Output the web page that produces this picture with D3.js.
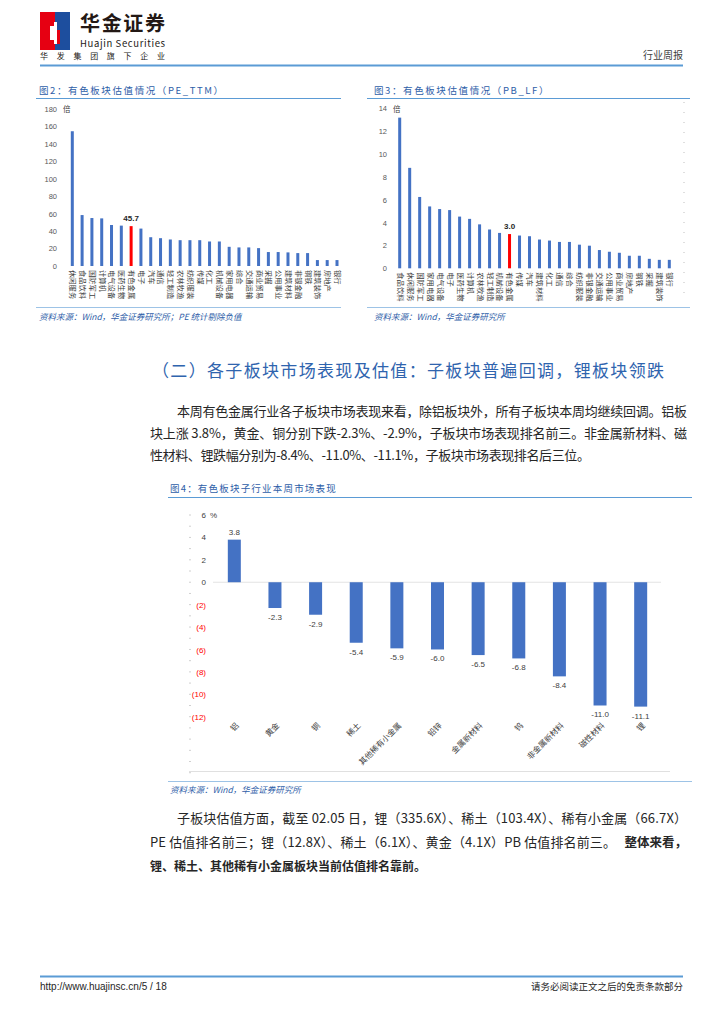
<!DOCTYPE html>
<html>
<head>
<meta charset="utf-8">
<script src="https://cdn.jsdelivr.net/npm/d3@7"></script>
<style>
body { margin: 0; background: #fff; }
svg { display: block; }
text { font-family: "Noto Sans CJK SC", "Liberation Sans", sans-serif; }
.num { font-family: "Liberation Sans", Arial, sans-serif; }
</style>
</head>
<body>
<svg id="page" width="724" height="1024"></svg>
<script>
// 图2 PE_TTM
var peCats = ["休闲服务", "食品饮料", "国防军工", "计算机", "电气设备", "医药生物", "有色金属",
    "电子", "汽车", "通信", "轻工制造", "农林牧渔", "纺织服装", "传媒", "化工", "机械设备",
    "家用电器", "综合", "交通运输", "商业贸易", "采掘", "公用事业", "建筑材料", "非银金融",
    "钢铁", "建筑装饰", "房地产", "银行"];
var peVals = [154.5, 58.4, 55.0, 54.6, 47.0, 46.3, 45.7, 42.9, 33.0, 31.9, 30.4, 29.6, 29.6, 29.6,
    28.1, 28.1, 22.0, 21.3, 21.3, 20.5, 16.0, 16.0, 15.6, 14.8, 14.8, 6.8, 6.8, 6.8];
var peTicks = [0, 20, 40, 60, 80, 100, 120, 140, 160, 180];

// 图3 PB_LF
var pbCats = ["食品饮料", "休闲服务", "国防军工", "家用电器", "电气设备", "电子", "医药生物",
    "计算机", "农林牧渔", "轻工制造", "机械设备", "有色金属", "传媒", "汽车", "建筑材料", "化工",
    "通信", "综合", "纺织服装", "非银金融", "交通运输", "公用事业", "商业贸易", "房地产", "钢铁",
    "采掘", "建筑装饰", "银行"];
var pbVals = [13.2, 8.8, 6.25, 5.42, 5.19, 5.1, 4.53, 4.33, 3.85, 3.4, 3.1, 3.0, 2.87, 2.81, 2.52,
    2.43, 2.31, 2.31, 2.07, 1.98, 1.6, 1.45, 1.36, 1.1, 1.1, 0.83, 0.74, 0.74];
var pbTicks = [0, 2, 4, 6, 8, 10, 12, 14];

// 图4 子行业本周涨跌幅 %
var subCats = ["铝", "黄金", "铜", "稀土", "其他稀有小金属", "铅锌", "金属新材料", "钨",
    "非金属新材料", "磁性材料", "锂"];
var subVals = [3.8, -2.3, -2.9, -5.4, -5.9, -6.0, -6.5, -6.8, -8.4, -11.0, -11.1];
var subTicks = [-12, -10, -8, -6, -4, -2, 0, 2, 4, 6];

var blue = "#4472C4", red = "#FF0000", titleBlue = "#2E5EA8", lineBlue = "#5B9BD5";
var svg = d3.select("#page");

// ---------- header ----------
var hd = svg.append("g");
hd.append("rect").attr("x", 40).attr("y", 12).attr("width", 15).attr("height", 38).attr("fill", "#E60012");
hd.append("rect").attr("x", 55).attr("y", 12).attr("width", 15).attr("height", 38).attr("fill", "#1D4E9E");
hd.append("rect").attr("x", 54).attr("y", 22).attr("width", 3).attr("height", 22).attr("fill", "#fff");
hd.append("rect").attr("x", 50).attr("y", 26).attr("width", 4).attr("height", 14).attr("fill", "#fff");
hd.append("rect").attr("x", 57).attr("y", 30).attr("width", 3).attr("height", 14).attr("fill", "#E60012");
hd.append("text").attr("x", 80).attr("y", 31).attr("font-size", 20).attr("font-weight", "bold")
    .attr("fill", "#231815").attr("textLength", 85).text("华金证券");
hd.append("text").attr("x", 80).attr("y", 47).attr("font-size", 9.5).attr("fill", "#231815")
    .attr("textLength", 85).text("Huajin Securities");
hd.append("text").attr("x", 40).attr("y", 58.5).attr("font-size", 8).attr("fill", "#231815")
    .attr("textLength", 125).text("华发集团旗下企业");
hd.append("text").attr("x", 683).attr("y", 58.5).attr("font-size", 10).attr("fill", "#404040")
    .attr("text-anchor", "end").text("行业周报");
hd.append("line").attr("x1", 40).attr("x2", 683).attr("y1", 65.5).attr("y2", 65.5)
    .attr("stroke", lineBlue).attr("stroke-width", 2);

// ---------- small bar charts ----------
function smallChart(o) {
    var g = svg.append("g");
    g.append("text").attr("x", o.tx).attr("y", 94).attr("font-size", 9.5).attr("fill", titleBlue)
        .attr("letter-spacing", 1.6).text(o.title);
    g.append("line").attr("x1", o.l1).attr("x2", o.l2).attr("y1", 98.5).attr("y2", 98.5)
        .attr("stroke", lineBlue).attr("stroke-width", 1);
    g.append("line").attr("x1", o.l1).attr("x2", o.l2).attr("y1", 307.5).attr("y2", 307.5)
        .attr("stroke", "#9DC3E6").attr("stroke-width", 1);
    g.append("text").attr("x", o.tx).attr("y", 320).attr("font-size", 8.5).attr("fill", titleBlue)
        .attr("font-style", "italic").text(o.source);

    var x = d3.scalePoint().domain(o.cats).range(o.xr);
    var y = d3.scaleLinear().domain(o.yd).range(o.yr);

    var ya = g.append("g").attr("transform", "translate(" + o.yx + ",0)")
        .call(d3.axisLeft(y).tickValues(o.ticks).tickSize(0).tickPadding(0));
    ya.select(".domain").remove();
    ya.selectAll("text").attr("class", "num").attr("font-size", 7.5).attr("fill", "#595959");
    g.append("text").attr("x", o.yx + 6).attr("y", y(o.yd[1]) + 3).attr("font-size", 7.5)
        .attr("fill", "#404040").text("倍");

    g.selectAll(".bar").data(o.vals).join("rect")
        .attr("x", (d, i) => x(o.cats[i]) - 1.5)
        .attr("width", 3)
        .attr("y", d => y(d))
        .attr("height", d => y(0) - y(d))
        .attr("fill", (d, i) => o.cats[i] === "有色金属" ? red : blue);

    var hi = o.cats.indexOf("有色金属");
    g.append("text").attr("class", "num").attr("x", x(o.cats[hi])).attr("y", y(o.vals[hi]) - 5)
        .attr("text-anchor", "middle").attr("font-size", 8).attr("font-weight", "bold")
        .attr("fill", "#262626").text(o.hiLabel);

    var xa = g.append("g").attr("transform", "translate(0," + y(0) + ")")
        .call(d3.axisBottom(x).tickSize(0));
    xa.select(".domain").remove();
    xa.selectAll("text")
        .attr("transform", "rotate(90)")
        .attr("x", 4).attr("y", 0).attr("dy", "0.35em")
        .attr("text-anchor", "start")
        .attr("font-size", 7.3).attr("fill", "#404040")
        .style("font-family", '"Noto Sans CJK SC", sans-serif');
    return g;
}

smallChart({
    title: "图2：有色板块估值情况（PE_TTM）", source: "资料来源：Wind，华金证券研究所；PE 统计剔除负值",
    tx: 39, l1: 36, l2: 341, cats: peCats, vals: peVals, ticks: peTicks, yd: [0, 180], yr: [266, 109],
    xr: [72.3, 337], yx: 57, hiLabel: "45.7"
});
var c3 = smallChart({
    title: "图3：有色板块估值情况（PB_LF）", source: "资料来源：Wind，华金证券研究所",
    tx: 374, l1: 367, l2: 690, cats: pbCats, vals: pbVals, ticks: pbTicks, yd: [0, 14], yr: [268.3, 108.5],
    xr: [399.7, 669.3], yx: 387, hiLabel: "3.0"
});
c3.append("line").attr("x1", 684).attr("x2", 684).attr("y1", 102).attr("y2", 300)
    .attr("stroke", "#BFBFBF").attr("stroke-dasharray", "1,9");

// ---------- heading & paragraph ----------
svg.append("text").attr("x", 152).attr("y", 377).attr("font-size", 17).attr("fill", "#2F64AE")
    .attr("textLength", 512).attr("lengthAdjust", "spacing")
    .text("（二）各子板块市场表现及估值：子板块普遍回调，锂板块领跌");

function para(x, y, str, len, bold, size) {
    var t = svg.append("text").attr("x", x).attr("y", y).attr("font-size", size || 13)
        .attr("fill", "#262626").text(str);
    if (bold) t.attr("font-weight", "bold");
    if (len) t.attr("textLength", len).attr("lengthAdjust", "spacing");
    return t;
}
para(177, 416, "本周有色金属行业各子板块市场表现来看，除铝板块外，所有子板块本周均继续回调。铝板", 510);
para(150, 438, "块上涨 3.8%，黄金、铜分别下跌-2.3%、-2.9%，子板块市场表现排名前三。非金属新材料、磁", 537);
para(150, 460, "性材料、锂跌幅分别为-8.4%、-11.0%、-11.1%，子板块市场表现排名后三位。", 440);

para(177, 823, "子板块估值方面，截至 02.05 日，锂（335.6X）、稀土（103.4X）、稀有小金属（66.7X）", 510);
para(150, 847, "PE 估值排名前三；锂（12.8X）、稀土（6.1X）、黄金（4.1X）PB 估值排名前三。", 466);
para(687, 847, "整体来看，", null, true, 12.5).attr("text-anchor", "end");
para(150, 871, "锂、稀土、其他稀有小金属板块当前估值排名靠前。", null, true, 12);

// ---------- 图4 ----------
var g4 = svg.append("g");
g4.append("text").attr("x", 170).attr("y", 492).attr("font-size", 9.5).attr("fill", titleBlue)
    .attr("letter-spacing", 1.2).text("图4：有色板块子行业本周市场表现");
g4.append("line").attr("x1", 168).attr("x2", 692).attr("y1", 497.5).attr("y2", 497.5)
    .attr("stroke", lineBlue).attr("stroke-width", 1);

var x4 = d3.scaleBand().domain(subCats).range([214, 661]).paddingInner(0.68).paddingOuter(0.34);
var y4 = d3.scaleLinear().domain([-12, 6]).range([716.7, 515]);

// faint minor ticks on the left
var minor = d3.range(6, -18, -1);
g4.selectAll(".mt").data(minor).join("line")
    .attr("x1", 189).attr("x2", 191)
    .attr("y1", d => y4(d)).attr("y2", d => y4(d))
    .attr("stroke", "#D0D0D0");

g4.append("line").attr("x1", 213).attr("x2", 661).attr("y1", y4(0)).attr("y2", y4(0))
    .attr("stroke", "#E3E3E3").attr("stroke-width", 1.2);
g4.append("line").attr("x1", 189).attr("x2", 670).attr("y1", 771.5).attr("y2", 771.5)
    .attr("stroke", "#E0E0E0");

var ya4 = g4.append("g").attr("transform", "translate(206,0)")
    .call(d3.axisLeft(y4).tickValues(subTicks).tickSize(0).tickPadding(0)
        .tickFormat(d => d < 0 ? "(" + (-d) + ")" : d));
ya4.select(".domain").remove();
ya4.selectAll("text").attr("class", "num").attr("font-size", 8)
    .attr("fill", d => d < 0 ? red : "#404040");
g4.append("text").attr("class", "num").attr("x", 210).attr("y", y4(6) + 3).attr("font-size", 8)
    .attr("fill", "#404040").text("%");

g4.selectAll(".b4").data(subVals).join("rect")
    .attr("x", (d, i) => x4(subCats[i]))
    .attr("width", x4.bandwidth())
    .attr("y", d => y4(Math.max(0, d)))
    .attr("height", d => Math.abs(y4(d) - y4(0)))
    .attr("fill", blue);

g4.selectAll(".v4").data(subVals).join("text")
    .attr("class", "num")
    .attr("x", (d, i) => x4(subCats[i]) + x4.bandwidth() / 2)
    .attr("y", d => d >= 0 ? y4(d) - 5 : y4(d) + 12)
    .attr("text-anchor", "middle").attr("font-size", 8).attr("fill", "#404040")
    .text(d => d.toFixed(1));

var xa4 = g4.append("g").attr("transform", "translate(3,724)")
    .call(d3.axisBottom(x4).tickSize(0));
xa4.select(".domain").remove();
xa4.selectAll("text")
    .attr("x", 0).attr("y", 0).attr("dy", "0.35em")
    .attr("transform", "rotate(-45)")
    .attr("text-anchor", "end")
    .attr("font-size", 8).attr("fill", "#404040")
    .style("font-family", '"Noto Sans CJK SC", sans-serif');

g4.append("line").attr("x1", 168).attr("x2", 692).attr("y1", 781.5).attr("y2", 781.5)
    .attr("stroke", "#9DC3E6").attr("stroke-width", 1);
g4.append("text").attr("x", 170).attr("y", 793).attr("font-size", 8.5).attr("fill", titleBlue)
    .attr("font-style", "italic").text("资料来源：Wind，华金证券研究所");

// ---------- footer ----------
svg.append("line").attr("x1", 40).attr("x2", 683).attr("y1", 976.5).attr("y2", 976.5)
    .attr("stroke", lineBlue).attr("stroke-width", 2);
svg.append("text").attr("class", "num").attr("x", 40).attr("y", 990).attr("font-size", 10)
    .attr("fill", "#262626").text("http://www.huajinsc.cn/5 / 18");
svg.append("text").attr("x", 683).attr("y", 990).attr("font-size", 9.5).attr("fill", "#262626")
    .attr("text-anchor", "end").text("请务必阅读正文之后的免责条款部分");
</script>
</body>
</html>
